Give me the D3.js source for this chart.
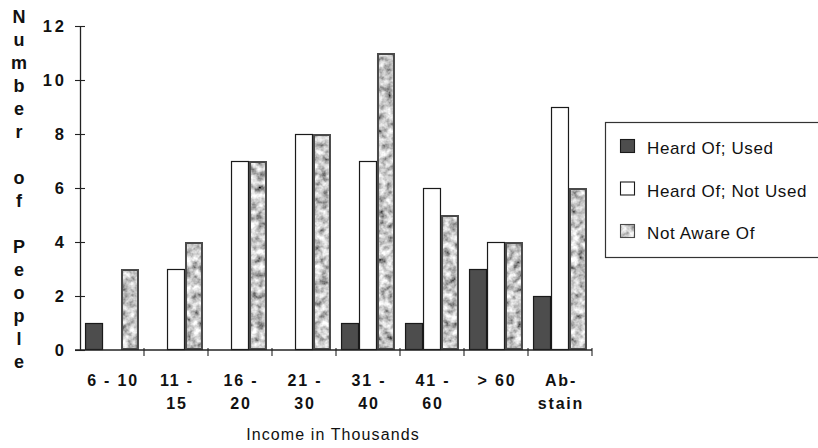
<!DOCTYPE html>
<html>
<head>
<meta charset="utf-8">
<script src="https://cdn.jsdelivr.net/npm/d3@7"></script>
<style>
  html, body { margin: 0; padding: 0; background: #fff; }
  svg { display: block; }
  text { font-family: "Liberation Sans", Arial, Helvetica, sans-serif; fill: #111; }
</style>
</head>
<body>
<svg id="chart" width="818" height="448"></svg>
<script>
// ---- data ----
const categories = ["6 - 10", "11 - 15", "16 - 20", "21 - 30", "31 - 40", "41 - 60", "> 60", "Abstain"];
const categoryLabels = [["6 - 10"], ["11 -", "15"], ["16 -", "20"], ["21 -", "30"], ["31 -", "40"], ["41 -", "60"], ["> 60"], ["Ab-", "stain"]];
const seriesNames = ["Heard Of; Used", "Heard Of; Not Used", "Not Aware Of"];
const heardUsed    = [1, 0, 0, 0, 1, 1, 3, 2];
const heardNotUsed = [0, 3, 7, 8, 7, 6, 4, 9];
const notAware     = [3, 4, 7, 8, 11, 5, 4, 6];
const yTicks = [0, 2, 4, 6, 8, 10, 12];
const yTitle = "Number of People";
const xTitle = "Income in Thousands";

const seriesValues = [heardUsed, heardNotUsed, notAware];

// ---- layout ----
const svg = d3.select("#chart");
const mLeft = 80, mRight = 592, mTop = 26, mBottom = 350;

const defs = svg.append("defs");
const f = defs.append("filter").attr("id", "speckle")
  .attr("x", 0).attr("y", 0).attr("width", "100%").attr("height", "100%");
f.append("feTurbulence").attr("type", "fractalNoise").attr("baseFrequency", 0.14)
  .attr("numOctaves", 3).attr("seed", 11).attr("result", "n");
f.append("feColorMatrix").attr("in", "n").attr("type", "matrix")
  .attr("values", "1.5 0 0 0 -0.17  1.5 0 0 0 -0.17  1.5 0 0 0 -0.17  0 0 0 0 1").attr("result", "g");
f.append("feComposite").attr("in", "g").attr("in2", "SourceAlpha").attr("operator", "in");

const x = d3.scaleBand().domain(categories).range([mLeft, mRight]).paddingInner(0).paddingOuter(0);
const xs = d3.scaleBand().domain(seriesNames).range([0, x.bandwidth()]).paddingInner(0).paddingOuter(0.28);
const y = d3.scaleLinear().domain([0, 12]).range([mBottom, mTop]);

const fills = ["#4d4d4d", "#ffffff", "#8c8c8c"];
const strokes = ["#1a1a1a", "#1a1a1a", "#4a4a4a"];

// bars
seriesNames.forEach((s, si) => {
  const g = svg.append("g");
  const data = categories.map((c, i) => ({ c, v: seriesValues[si][i] })).filter(d => d.v > 0);
  g.selectAll("rect.fill").data(data).join("rect")
    .attr("x", d => x(d.c) + xs(s))
    .attr("y", d => y(d.v))
    .attr("width", xs.bandwidth())
    .attr("height", d => y(0) - y(d.v))
    .attr("fill", fills[si])
    .attr("filter", si === 2 ? "url(#speckle)" : null);
  g.selectAll("rect.out").data(data).join("rect")
    .attr("x", d => x(d.c) + xs(s) + (si === 2 ? 1 : 0.5))
    .attr("y", d => y(d.v) + (si === 2 ? 1 : 0.5))
    .attr("width", xs.bandwidth() - (si === 2 ? 2 : 1))
    .attr("height", d => y(0) - y(d.v) - (si === 2 ? 2 : 1))
    .attr("fill", "none")
    .attr("stroke", strokes[si])
    .attr("stroke-width", si === 2 ? 2 : 1.2);
});

// y axis
const yAxis = d3.axisLeft(y).tickValues(yTicks).tickSize(0).tickFormat(d3.format("d"));
const yg = svg.append("g").attr("transform", `translate(${mLeft},0)`).call(yAxis);
yg.select(".domain").attr("stroke", "#222").attr("stroke-width", 1.3);
yg.selectAll(".tick text").attr("x", -13).attr("dy", "0.36em")
  .style("font-size", "16.5px").style("letter-spacing", "3px").style("font-weight", "bold").attr("fill", "#111")
  .style("font-family", "'Liberation Sans', Arial, sans-serif");
yg.selectAll(".tick").append("line").attr("x1", -5).attr("x2", 5).attr("stroke", "#222").attr("stroke-width", 1.1);

// x axis
const xg = svg.append("g");
xg.append("line").attr("x1", mLeft - 5).attr("x2", mRight).attr("y1", mBottom).attr("y2", mBottom)
  .attr("stroke", "#222").attr("stroke-width", 1.3);
const bounds = categories.map(c => x(c)).concat([mRight]).slice(1);
xg.selectAll("line.tk").data(bounds).join("line")
  .attr("x1", d => d).attr("x2", d => d).attr("y1", mBottom - 2).attr("y2", mBottom + 6)
  .attr("stroke", "#222").attr("stroke-width", 1.1);
const lab = xg.selectAll("text.cat").data(categories).join("text")
  .attr("text-anchor", "middle")
  .attr("x", d => x(d) + x.bandwidth() / 2 + 1)
  .attr("y", 385)
  .style("font-size", "16px").style("font-weight", "bold").style("letter-spacing", "1.8px");
lab.each(function(d, i) {
  const t = d3.select(this);
  categoryLabels[i].forEach((ln, li) => {
    t.append("tspan").attr("x", x(d) + x.bandwidth() / 2 + 1).attr("y", 386 + li * 23).text(ln);
  });
});

// axis titles
svg.append("text").attr("x", 333).attr("y", 440).attr("text-anchor", "middle")
  .style("font-size", "16px").style("letter-spacing", "1.1px").text(xTitle);
const letters = yTitle.split("");
svg.append("g").selectAll("text").data(letters).join("text")
  .attr("x", 19).attr("y", (d, i) => 17 + i * 23).attr("dy", "0.36em")
  .attr("text-anchor", "middle")
  .style("font-size", "18px").style("font-weight", "bold")
  .text(d => d);

// legend
const lg = svg.append("g");
lg.append("rect").attr("x", 605.5).attr("y", 122.5).attr("width", 240).attr("height", 135)
  .attr("fill", "#fff").attr("stroke", "#333").attr("stroke-width", 1.2);
seriesNames.forEach((s, i) => {
  const yy = 139 + i * 42.5;
  lg.append("rect").attr("x", 620).attr("y", yy).attr("width", 15).attr("height", 14)
    .attr("fill", fills[i]).attr("filter", i === 2 ? "url(#speckle)" : null);
  lg.append("rect").attr("x", 620.5).attr("y", yy + 0.5).attr("width", 14).attr("height", 13)
    .attr("fill", "none").attr("stroke", strokes[i]).attr("stroke-width", 1.1);
  lg.append("text").attr("x", 647).attr("y", yy + 15).style("font-size", "17px")
    .style("letter-spacing", "0.6px").text(s);
});
</script>
</body>
</html>
